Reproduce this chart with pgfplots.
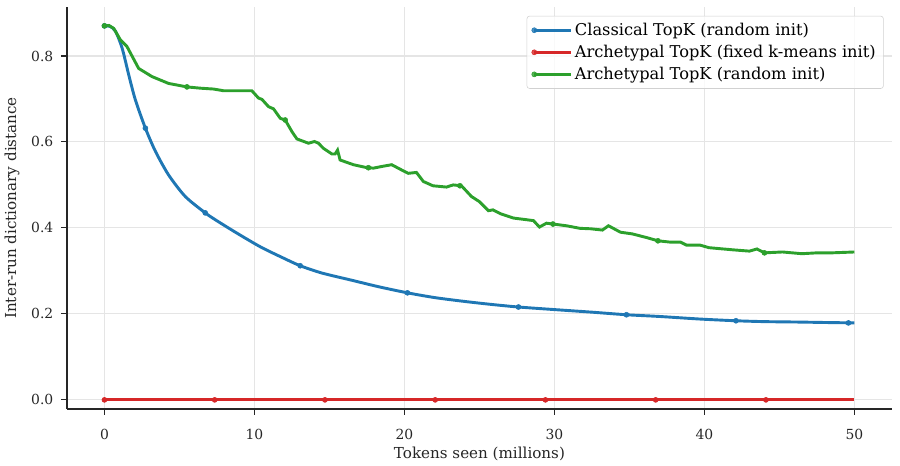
\documentclass[border=0pt]{standalone}
\usepackage{pgfplots}
\pgfplotsset{compat=1.18}
\usepackage{fontspec}
\setmainfont{DejaVu Serif}

\definecolor{tabblue}{HTML}{1F77B4}
\definecolor{tabred}{HTML}{D62728}
\definecolor{tabgreen}{HTML}{2CA02C}
\definecolor{spine}{HTML}{262626}

\pgfplotsset{
  run/.style={line width=2.1pt, mark=*, mark size=1.8pt,
    mark options={solid, line width=0.4pt}},
  dots/.style={only marks, mark=*, mark size=1.8pt,
    mark options={line width=0.4pt}, forget plot},
}

\begin{document}
\begin{tikzpicture}
\begin{axis}[
  name=ax,
  scale only axis,
  width=594pt, height=289.4pt,
  xmin=-2.5, xmax=52.5,
  ymin=-0.021, ymax=0.914,
  axis x line*=bottom, axis y line*=left,
  axis line style={line width=0.9pt, spine, -},
  xtick={0,10,20,30,40,50},
  ytick={0,0.2,0.4,0.6,0.8},
  /pgf/number format/assume math mode=true,
  tick align=outside,
  major tick length=4.3pt,
  tick style={line width=0.8pt, spine},
  grid=major,
  grid style={line width=0.8pt, black!10},
  ticklabel style={font=\fontsize{10}{12}\selectfont, text=spine},
  xticklabel style={yshift=-6.5pt},
  yticklabel style={xshift=-2pt, /pgf/number format/.cd, fixed, fixed zerofill, precision=1},
  label style={font=\fontsize{10.9}{13}\selectfont, text=spine},
  xlabel style={yshift=1.5pt},
  ylabel style={yshift=1.5pt},
  xlabel={Tokens seen (millions)},
  ylabel={Inter-run dictionary distance},
  legend style={
    at={(0.99,0.978)}, anchor=north east,
    draw=black!18, rounded corners=2pt,
    fill=white, fill opacity=0.8, text opacity=1,
    font=\fontsize{11.7}{14}\selectfont,
    inner xsep=3.5pt, inner ysep=3pt,
    row sep=1.5pt,
  },
  legend cell align=left,
  legend image code/.code={%
    \draw[mark repeat=2, mark phase=2, #1]
      plot coordinates {(0cm,0cm) (0.46cm,0cm) (0.92cm,0cm)};},
]

% Classical TopK, random init
\addplot[tabblue, run, mark indices={1}, smooth, tension=0.45] coordinates {
  (0,0.870) (0.35,0.869) (0.73,0.858) (1.18,0.818) (1.62,0.756)
  (2.06,0.698) (2.73,0.632) (3.4,0.578) (4.28,0.523) (5.39,0.473)
  (6.72,0.435) (7.39,0.419) (8.4,0.397) (9.4,0.376) (10.5,0.354)
  (11.8,0.332) (13.05,0.312) (14.5,0.295) (16.4,0.279) (18.3,0.263)
  (20.2,0.249) (22,0.238) (24,0.229) (25.8,0.222) (27.6,0.216)
  (30,0.210) (32.5,0.204) (34.8,0.198) (37,0.194) (39.7,0.188)
  (42.1,0.184) (44,0.182) (46.3,0.181) (48,0.180) (50,0.179)
};
\addlegendentry{Classical TopK (random init)}

% Archetypal TopK, fixed k-means init
\addplot[tabred, run, mark indices={1}] coordinates {
  (0,0) (7.35,0) (14.7,0) (22.05,0) (29.4,0) (36.75,0) (44.1,0) (50,0)
};
\addlegendentry{Archetypal TopK (fixed k-means init)}

% Archetypal TopK, random init
\addplot[tabgreen, run, mark indices={1}] coordinates {
  (0,0.870) (0.3,0.871) (0.62,0.864) (1.07,0.837) (1.5,0.822)
  (2.28,0.771) (3.17,0.752) (4.28,0.736) (5.5,0.728) (6.4,0.725)
  (7.28,0.723) (7.95,0.719) (9.83,0.719) (10.27,0.702) (10.5,0.699)
  (10.94,0.682) (11.27,0.677) (11.72,0.655) (12.05,0.651) (12.5,0.624)
  (12.83,0.607) (13.6,0.597) (14.0,0.601) (14.27,0.597) (14.6,0.585)
  (15.16,0.572) (15.38,0.572) (15.54,0.581) (15.71,0.558) (16.6,0.547)
  (17.38,0.541) (17.93,0.539) (18.5,0.543) (19.15,0.547) (19.8,0.535)
  (20.26,0.527) (20.8,0.529) (21.26,0.508) (21.9,0.498) (22.8,0.495)
  (23.25,0.500) (23.8,0.498) (24.47,0.473) (25.0,0.461) (25.6,0.440)
  (25.9,0.442) (26.4,0.433) (27.25,0.423) (28.6,0.417) (29.0,0.402)
  (29.47,0.411) (29.9,0.409) (30.8,0.405) (31.7,0.399) (32.4,0.398)
  (33.2,0.395) (33.6,0.405) (34.4,0.390) (35.2,0.386) (36.2,0.377)
  (36.9,0.370) (37.7,0.367) (38.4,0.367) (38.8,0.360) (39.7,0.360)
  (40.3,0.354) (41.9,0.349) (43.0,0.346) (43.5,0.351) (44.0,0.342)
  (45.2,0.344) (46.5,0.340) (47.5,0.342) (48.5,0.342) (50,0.344)
};
\addlegendentry{Archetypal TopK (random init)}

% sparse markers along each run
\addplot[tabblue, dots] coordinates {
  (2.73,0.632) (6.72,0.435) (13.05,0.312) (20.2,0.249) (27.6,0.216)
  (34.8,0.198) (42.1,0.184) (49.6,0.179)
};
\addplot[tabred, dots] coordinates {
  (7.35,0) (14.7,0) (22.05,0) (29.4,0) (36.75,0) (44.1,0)
};
\addplot[tabgreen, dots] coordinates {
  (5.5,0.728) (12.05,0.651) (17.6,0.540) (23.7,0.498) (29.9,0.409)
  (36.9,0.370) (44.0,0.342)
};

\end{axis}
\pgfresetboundingbox
\path ([shift={(-48.2pt,-41pt)}]ax.south west) rectangle ([shift={(5.8pt,5pt)}]ax.north east);
\end{tikzpicture}
\end{document}
